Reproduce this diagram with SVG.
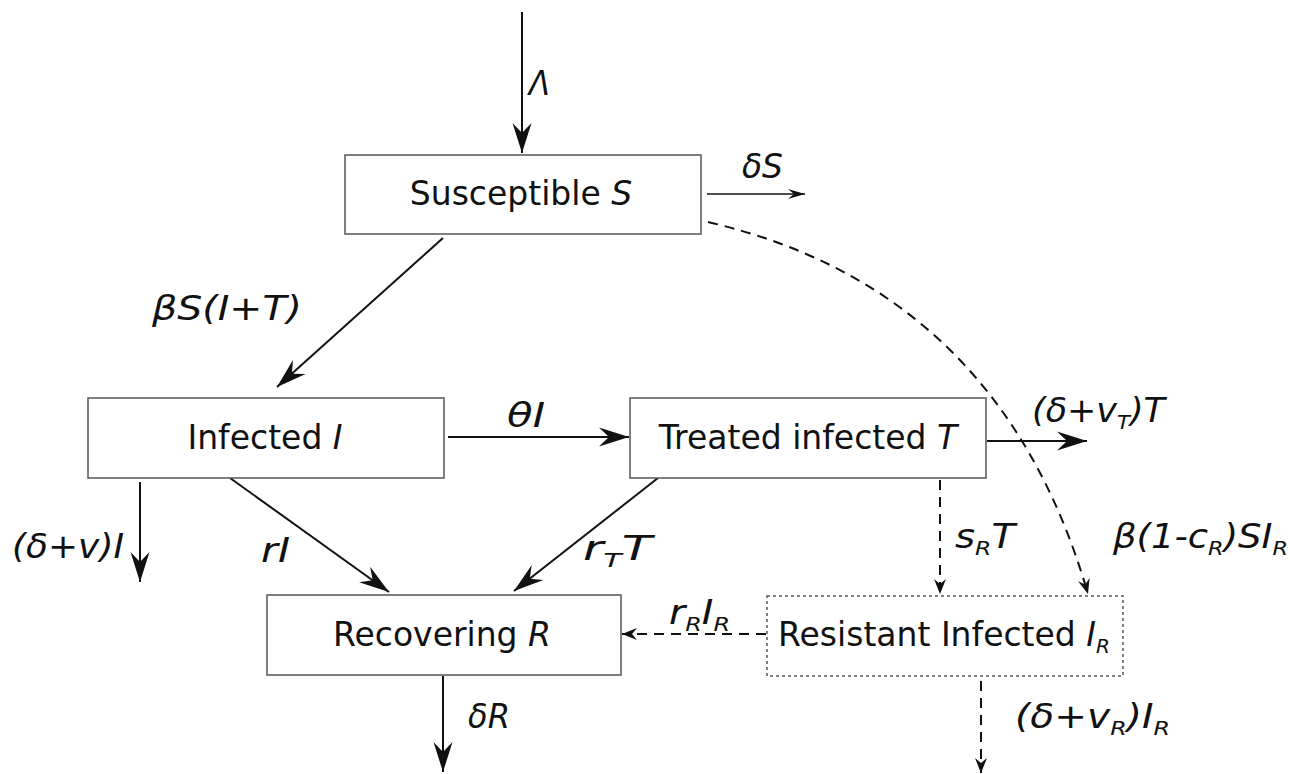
<svg xmlns="http://www.w3.org/2000/svg" width="1290" height="774" viewBox="0 0 1290 774">
<style>
.box{fill:#fff;stroke:#555;stroke-width:1.5}
.dbox{fill:#fff;stroke:#555;stroke-width:1.5;stroke-dasharray:3 3}
.t{font-family:"DejaVu Sans",Verdana,sans-serif;font-size:33px;fill:#111}
.l{font-family:"DejaVu Sans",Verdana,sans-serif;font-size:33px;font-style:italic;fill:#111}
.sub{font-size:20px}
.e{fill:none;stroke:#111;stroke-width:2}
.d{fill:none;stroke:#111;stroke-width:2;stroke-dasharray:10 7}
</style>
<defs>
<marker id="ah" markerUnits="userSpaceOnUse" viewBox="-30 -10 31 20" refX="0" refY="0" markerWidth="31" markerHeight="20" orient="auto">
<path d="M0,0 L-30,-9.5 L-20,0 L-30,9.5 Z" fill="#111"/>
</marker>
<marker id="sm" markerUnits="userSpaceOnUse" viewBox="-17 -6 18 12" refX="0" refY="0" markerWidth="18" markerHeight="12" orient="auto">
<path d="M0,0 L-17,-5 L-11,0 L-17,5 Z" fill="#111"/>
</marker>
<marker id="dm" markerUnits="userSpaceOnUse" viewBox="-15 -7 16 14" refX="0" refY="0" markerWidth="16" markerHeight="14" orient="auto">
<path d="M0,0 L-15,-6 L-10,0 L-15,6 Z" fill="#111"/>
</marker>
</defs>
<g id="connectors">
<line class="e" x1="522" y1="12" x2="522" y2="153" marker-end="url(#ah)"/>
<line class="e" x1="707" y1="194" x2="805" y2="194" style="stroke-width:1.6" marker-end="url(#sm)"/>
<line class="e" x1="443" y1="238" x2="277" y2="387" marker-end="url(#ah)"/>
<line class="e" x1="448" y1="437" x2="629" y2="437" marker-end="url(#ah)"/>
<line class="e" x1="987" y1="441" x2="1087" y2="441" marker-end="url(#ah)"/>
<line class="e" x1="140" y1="482" x2="140" y2="582" marker-end="url(#ah)"/>
<line class="e" x1="230" y1="478" x2="389" y2="592" marker-end="url(#ah)"/>
<line class="e" x1="658" y1="478" x2="514" y2="591" marker-end="url(#ah)"/>
<line class="e" x1="443" y1="676" x2="443" y2="772" marker-end="url(#ah)"/>
<line class="d" x1="940" y1="480" x2="940" y2="594" marker-end="url(#dm)"/>
<path class="d" d="M708,222 Q1000,290 1088,594" marker-end="url(#dm)"/>
<line class="d" x1="766" y1="634" x2="622" y2="634" marker-end="url(#dm)"/>
<line class="d" x1="981" y1="681" x2="981" y2="773" marker-end="url(#dm)"/>
</g>
<g id="labels">
<text class="l" x="529" y="95" textLength="21" lengthAdjust="spacingAndGlyphs">Λ</text>
<text class="l" x="742" y="178" textLength="41" lengthAdjust="spacingAndGlyphs">δS</text>
<text class="l" x="152" y="320" textLength="150" lengthAdjust="spacingAndGlyphs">βS(I+T)</text>
<text class="l" x="507" y="427" textLength="38" lengthAdjust="spacingAndGlyphs">θI</text>
<text class="l" x="1032" y="422" textLength="133" lengthAdjust="spacingAndGlyphs">(δ+v<tspan class="sub" dy="7">T</tspan><tspan dy="-7">)T</tspan></text>
<text class="l" x="12" y="558" textLength="112" lengthAdjust="spacingAndGlyphs">(δ+v)I</text>
<text class="l" x="261" y="562" textLength="29" lengthAdjust="spacingAndGlyphs">rI</text>
<text class="l" x="583" y="560" textLength="69" lengthAdjust="spacingAndGlyphs">r<tspan class="sub" dy="7">T</tspan><tspan dy="-7">T</tspan></text>
<text class="l" x="955" y="548" textLength="60" lengthAdjust="spacingAndGlyphs">s<tspan class="sub" dy="7">R</tspan><tspan dy="-7">T</tspan></text>
<text class="l" x="1113" y="548" textLength="175" lengthAdjust="spacingAndGlyphs">β(1-c<tspan class="sub" dy="7">R</tspan><tspan dy="-7">)SI</tspan><tspan class="sub" dy="7">R</tspan></text>
<text class="l" x="669" y="624" textLength="61" lengthAdjust="spacingAndGlyphs">r<tspan class="sub" dy="7">R</tspan><tspan dy="-7">I</tspan><tspan class="sub" dy="7">R</tspan></text>
<text class="l" x="468" y="728" textLength="42" lengthAdjust="spacingAndGlyphs">δR</text>
<text class="l" x="1015" y="728" textLength="155" lengthAdjust="spacingAndGlyphs">(δ+v<tspan class="sub" dy="7">R</tspan><tspan dy="-7">)I</tspan><tspan class="sub" dy="7">R</tspan></text>
</g>
<g id="node-S">
<rect class="box" x="345" y="155" width="356" height="79"/>
<text class="t" x="521" y="205" text-anchor="middle">Susceptible <tspan font-style="italic">S</tspan></text>
</g>
<g id="node-I">
<rect class="box" x="88" y="398" width="356" height="80"/>
<text class="t" x="265" y="449" text-anchor="middle">Infected <tspan font-style="italic">I</tspan></text>
</g>
<g id="node-T">
<rect class="box" x="630" y="398" width="356" height="80"/>
<text class="t" x="808" y="449" text-anchor="middle">Treated infected <tspan font-style="italic">T</tspan></text>
</g>
<g id="node-R">
<rect class="box" x="267" y="595" width="354" height="80"/>
<text class="t" x="442" y="646" text-anchor="middle">Recovering <tspan font-style="italic">R</tspan></text>
</g>
<g id="node-IR">
<rect class="dbox" x="767" y="596" width="356" height="80"/>
<text class="t" x="944" y="646" text-anchor="middle">Resistant Infected <tspan font-style="italic">I</tspan><tspan class="sub" font-style="italic" dy="7">R</tspan></text>
</g>
</svg>
